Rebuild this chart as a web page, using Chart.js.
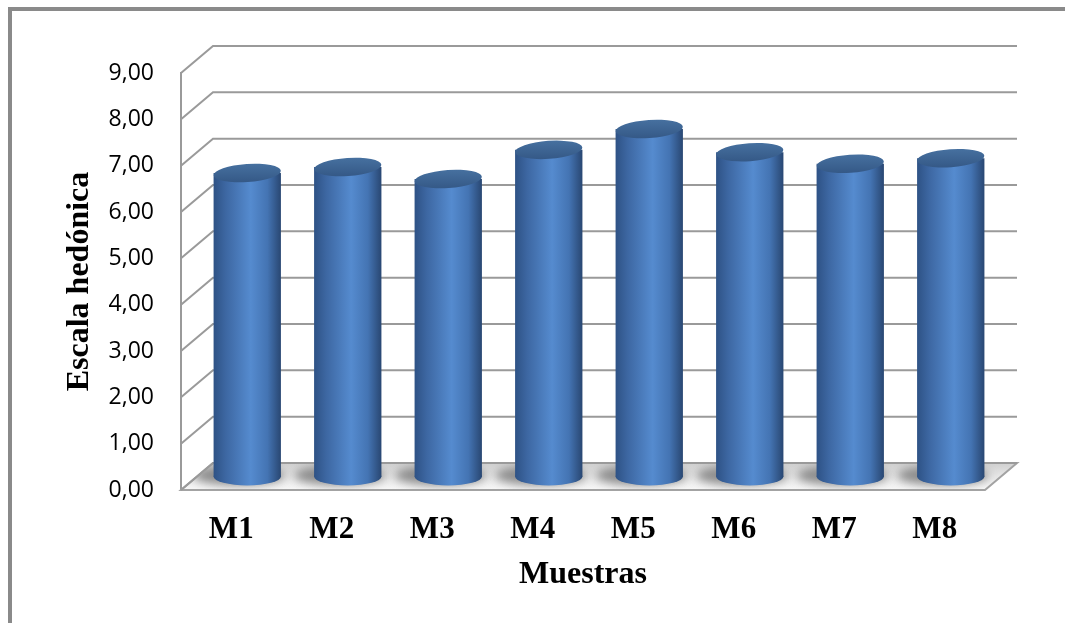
<!DOCTYPE html>
<html>
<head>
<meta charset="utf-8">
<script src="https://cdn.jsdelivr.net/npm/chart.js@4.4.0/dist/chart.umd.min.js"></script>
<style>
html,body{margin:0;padding:0;background:#fff;}
#wrap{width:1065px;height:623px;position:relative;}
</style>
</head>
<body>
<div id="wrap"><canvas id="c" width="1065" height="623"></canvas></div>
<script>
// ---- data ----
const categories = ['M1', 'M2', 'M3', 'M4', 'M5', 'M6', 'M7', 'M8'];
const values = [6.55, 6.68, 6.42, 7.05, 7.50, 7.00, 6.75, 6.87];
const yTicks = [0, 1, 2, 3, 4, 5, 6, 7, 8, 9];
const yAxisTitle = 'Escala hedónica';
const xAxisTitle = 'Muestras';

// ---- styling / 3D geometry ----
const DX = 32, DY = -27;      // depth of back wall
const BX = 16, BY = -13.5;    // bars sit mid-depth
const BAR_PCT = 0.67;

function bodyGradient(ctx, x0, x1) {
  if (!isFinite(x0) || !isFinite(x1) || x1 <= x0) return '#4f81bd';
  const g = ctx.createLinearGradient(x0, 0, x1, 0);
  g.addColorStop(0.00, '#2e5285');
  g.addColorStop(0.18, '#3d67a2');
  g.addColorStop(0.55, '#558bcf');
  g.addColorStop(0.80, '#4474b3');
  g.addColorStop(1.00, '#294772');
  return g;
}

const threeD = {
  id: 'threeD',
  beforeDraw(chart) {
    const ctx = chart.ctx;
    ctx.save();
    ctx.fillStyle = '#ffffff';
    ctx.fillRect(0, 0, chart.width, chart.height);
    ctx.strokeStyle = '#8a8a8a';
    ctx.lineWidth = 4;
    ctx.strokeRect(10, 9, chart.width + 40, chart.height + 40);
    ctx.restore();
  },
  beforeDatasetsDraw(chart) {
    const ctx = chart.ctx;
    const a = chart.chartArea;
    const y = chart.scales.y;
    const y0 = y.getPixelForValue(0);
    const floorPath = () => {
      ctx.beginPath();
      ctx.moveTo(a.left, y0);
      ctx.lineTo(a.right, y0);
      ctx.lineTo(a.right + DX, y0 + DY);
      ctx.lineTo(a.left + DX, y0 + DY);
      ctx.closePath();
    };
    ctx.save();
    // floor
    floorPath();
    const fg = ctx.createLinearGradient(0, y0 + DY, 0, y0);
    fg.addColorStop(0, '#d0d0d0');
    fg.addColorStop(0.6, '#ebebeb');
    fg.addColorStop(1, '#f8f8f8');
    ctx.fillStyle = fg;
    ctx.fill();
    // floor shadows
    const meta = chart.getDatasetMeta(0);
    ctx.save();
    floorPath();
    ctx.clip();
    ctx.filter = 'blur(5px)';
    ctx.fillStyle = 'rgba(80,80,80,0.6)';
    meta.data.forEach(bar => {
      const p = bar.getProps(['x', 'base', 'width'], true);
      ctx.beginPath();
      ctx.ellipse(p.x + BX - 8, p.base + BY - 1, p.width / 2 + 12, 10, 0, 0, Math.PI * 2);
      ctx.fill();
    });
    ctx.restore();
    floorPath();
    ctx.strokeStyle = '#a3a3a3';
    ctx.lineWidth = 2;
    ctx.stroke();
    // grid lines on side and back walls
    ctx.strokeStyle = '#9a9a9a';
    ctx.lineWidth = 2;
    yTicks.forEach(v => {
      const py = y.getPixelForValue(v);
      ctx.beginPath();
      ctx.moveTo(a.left, py);
      ctx.lineTo(a.left + DX, py + DY);
      ctx.lineTo(a.right + DX, py + DY);
      ctx.stroke();
    });
    ctx.restore();

    // bars: shift to mid-depth plane
    ctx.save();
    ctx.translate(BX, BY);
    meta.data.forEach(bar => {
      const p = bar.getProps(['x', 'base', 'width'], true);
      ctx.beginPath();
      ctx.ellipse(p.x, p.base, p.width / 2, 9, 0, 0, Math.PI * 2);
      ctx.fillStyle = bodyGradient(ctx, p.x - p.width / 2, p.x + p.width / 2);
      ctx.fill();
    });
  },
  afterDatasetsDraw(chart) {
    const ctx = chart.ctx;
    const meta = chart.getDatasetMeta(0);
    meta.data.forEach(bar => {
      const p = bar.getProps(['x', 'y', 'width'], true);
      ctx.beginPath();
      ctx.ellipse(p.x, p.y, p.width / 2, 9, -0.07, 0, Math.PI * 2);
      const tg = ctx.createLinearGradient(0, p.y - 9, 0, p.y + 9);
      tg.addColorStop(0, '#46709f');
      tg.addColorStop(1, '#355987');
      ctx.fillStyle = tg;
      ctx.fill();
    });
    ctx.restore();
  }
};

const chart = new Chart(document.getElementById('c'), {
  type: 'bar',
  data: {
    labels: categories,
    datasets: [{
      data: values,
      clip: false,
      borderWidth: 0,
      barPercentage: BAR_PCT,
      categoryPercentage: 1,
      backgroundColor(c) {
        const ch = c.chart;
        const xs = ch.scales && ch.scales.x;
        if (!xs || c.dataIndex === undefined || !ch.chartArea) return '#4f81bd';
        const cx = xs.getPixelForValue(c.dataIndex);
        const w = (xs.width / categories.length) * BAR_PCT;
        return bodyGradient(ch.ctx, cx - w / 2, cx + w / 2);
      }
    }]
  },
  options: {
    responsive: false,
    animation: false,
    devicePixelRatio: 1,
    layout: { padding: { left: 44, top: 73, right: 80, bottom: 0 } },
    plugins: { legend: { display: false }, tooltip: { enabled: false } },
    scales: {
      x: {
        grid: { display: false, drawTicks: false },
        border: { display: false },
        ticks: {
          padding: 21,
          color: '#000',
          font: { family: 'Liberation Serif', weight: 'bold', size: 31 }
        },
        title: {
          display: true,
          text: xAxisTitle,
          color: '#000',
          font: { family: 'Liberation Serif', weight: 'bold', size: 32 },
          padding: { top: 0, bottom: 29 }
        },
        afterFit(s) { s.height = 133; }
      },
      y: {
        min: 0,
        max: 9,
        afterBuildTicks(s) { s.ticks = yTicks.map(v => ({ value: v })); },
        grid: { display: false, drawTicks: false },
        border: { display: true, color: '#9a9a9a', width: 2 },
        ticks: {
          padding: 27,
          color: '#000',
          font: { family: 'Open Sans', size: 23 },
          callback: v => Number(v).toFixed(2).replace('.', ',')
        },
        title: {
          display: true,
          text: yAxisTitle,
          color: '#000',
          font: { family: 'Liberation Serif', weight: 'bold', size: 32 },
          padding: { top: 17, bottom: 0 }
        },
        afterFit(s) { s.width = 137; }
      }
    }
  },
  plugins: [threeD]
});
</script>
</body>
</html>
